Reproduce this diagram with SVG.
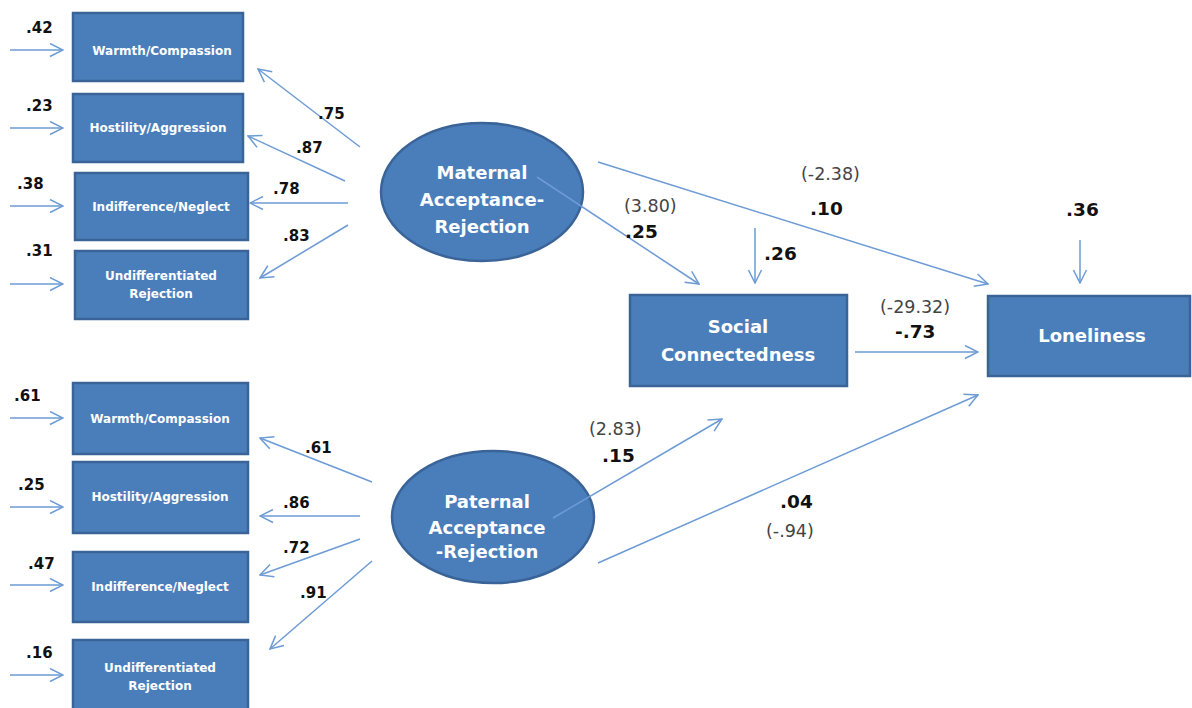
<svg xmlns="http://www.w3.org/2000/svg" width="1192" height="708" viewBox="0 0 1192 708">
<defs>
<marker id="arr" viewBox="0 0 15 15" markerWidth="15" markerHeight="15" refX="14" refY="7.5" orient="auto" markerUnits="userSpaceOnUse">
<path d="M1,1 L14,7.5 L1,14" fill="none" stroke="#6d9bd5" stroke-width="1.5"/>
</marker>
</defs>
<style>
.box{fill:#4a7ebb;stroke:#3a6497;stroke-width:2.5}
.ell{fill:#4a7ebb;stroke:#3a6497;stroke-width:2.5}
.bt{font-family:"DejaVu Sans",sans-serif;font-weight:bold;font-size:12px;fill:#ffffff;text-anchor:middle}
.nt{font-family:"DejaVu Sans",sans-serif;font-weight:bold;font-size:18px;fill:#ffffff;text-anchor:middle}
.c{fill:none;stroke:#6d9bd5;stroke-width:1.5;marker-end:url(#arr)}
.s{font-family:"DejaVu Sans",sans-serif;font-weight:bold;font-size:15px;fill:#111}
.b{font-family:"DejaVu Sans",sans-serif;font-weight:bold;font-size:18.5px;fill:#111}
.p{font-family:"DejaVu Sans",sans-serif;font-size:17.5px;fill:#444}
</style>
<rect width="1192" height="708" fill="#ffffff"/>

<g id="m_warmth"><rect class="box" x="73" y="13" width="170" height="68"/><text class="bt" x="162" y="55">Warmth/Compassion</text></g>
<g id="m_hostility"><rect class="box" x="73" y="94" width="170" height="68"/><text class="bt" x="158" y="132">Hostility/Aggression</text></g>
<g id="m_indiff"><rect class="box" x="75" y="173" width="173" height="67"/><text class="bt" x="161" y="211">Indifference/Neglect</text></g>
<g id="m_undiff"><rect class="box" x="75" y="251" width="173" height="68"/><text class="bt" x="161" y="280">Undifferentiated</text><text class="bt" x="161" y="298">Rejection</text></g>

<g id="p_warmth"><rect class="box" x="73" y="383" width="175" height="71"/><text class="bt" x="160" y="423">Warmth/Compassion</text></g>
<g id="p_hostility"><rect class="box" x="73" y="462" width="175" height="71"/><text class="bt" x="160" y="501">Hostility/Aggression</text></g>
<g id="p_indiff"><rect class="box" x="73" y="552" width="175" height="70"/><text class="bt" x="160" y="591">Indifference/Neglect</text></g>
<g id="p_undiff"><rect class="box" x="73" y="640" width="175" height="72"/><text class="bt" x="160" y="672">Undifferentiated</text><text class="bt" x="160" y="690">Rejection</text></g>

<g id="maternal"><ellipse class="ell" cx="482" cy="192" rx="101" ry="69"/><text class="nt" x="482" y="179">Maternal</text><text class="nt" x="482" y="206">Acceptance-</text><text class="nt" x="482" y="233">Rejection</text></g>
<g id="paternal"><ellipse class="ell" cx="493" cy="517" rx="101" ry="66"/><text class="nt" x="487" y="508">Paternal</text><text class="nt" x="487" y="534">Acceptance</text><text class="nt" x="487" y="558">-Rejection</text></g>

<g id="social"><rect class="box" x="630" y="295" width="217" height="91"/><text class="nt" x="738" y="333">Social</text><text class="nt" x="738" y="361">Connectedness</text></g>
<g id="loneliness"><rect class="box" x="988" y="296" width="202" height="80"/><text class="nt" x="1092" y="342">Loneliness</text></g>

<g id="connectors">
<line class="c" x1="10" y1="50" x2="63" y2="50"/>
<line class="c" x1="10" y1="128" x2="63" y2="128"/>
<line class="c" x1="10" y1="206" x2="63" y2="206"/>
<line class="c" x1="10" y1="284" x2="63" y2="284"/>
<line class="c" x1="10" y1="418" x2="63" y2="418"/>
<line class="c" x1="10" y1="507" x2="63" y2="507"/>
<line class="c" x1="10" y1="585" x2="63" y2="585"/>
<line class="c" x1="10" y1="675" x2="63" y2="675"/>

<line class="c" x1="360" y1="147" x2="258" y2="69"/>
<line class="c" x1="345" y1="181" x2="248" y2="136"/>
<line class="c" x1="348" y1="203" x2="250" y2="203"/>
<line class="c" x1="348" y1="225" x2="260" y2="278"/>

<line class="c" x1="372" y1="482" x2="260" y2="438"/>
<line class="c" x1="360" y1="516" x2="260" y2="516"/>
<line class="c" x1="360" y1="539" x2="260" y2="575"/>
<line class="c" x1="372" y1="561" x2="270" y2="649"/>

<line class="c" x1="537" y1="177" x2="699" y2="284"/>
<line class="c" x1="598" y1="162" x2="988" y2="284"/>
<line class="c" x1="755" y1="228" x2="755" y2="283"/>
<line class="c" x1="1080" y1="240" x2="1080" y2="283"/>
<line class="c" x1="855" y1="352" x2="978" y2="352"/>
<line class="c" x1="553" y1="518" x2="722" y2="419"/>
<line class="c" x1="598" y1="563" x2="978" y2="395"/>
</g>

<g id="labels">
<text class="s" x="26" y="33">.42</text>
<text class="s" x="26" y="111">.23</text>
<text class="s" x="17" y="189">.38</text>
<text class="s" x="26" y="256">.31</text>
<text class="s" x="14" y="401">.61</text>
<text class="s" x="18" y="490">.25</text>
<text class="s" x="28" y="569">.47</text>
<text class="s" x="26" y="658">.16</text>

<text class="s" x="318" y="119">.75</text>
<text class="s" x="296" y="153">.87</text>
<text class="s" x="273" y="194">.78</text>
<text class="s" x="283" y="241">.83</text>
<text class="s" x="305" y="453">.61</text>
<text class="s" x="283" y="508">.86</text>
<text class="s" x="283" y="553">.72</text>
<text class="s" x="300" y="598">.91</text>

<text class="p" x="624" y="212">(3.80)</text>
<text class="b" x="625" y="238">.25</text>
<text class="p" x="801" y="180">(-2.38)</text>
<text class="b" x="810" y="215">.10</text>
<text class="b" x="764" y="260">.26</text>
<text class="b" x="1066" y="216">.36</text>
<text class="p" x="880" y="313">(-29.32)</text>
<text class="b" x="895" y="338">-.73</text>
<text class="p" x="589" y="435">(2.83)</text>
<text class="b" x="602" y="462">.15</text>
<text class="b" x="780" y="508">.04</text>
<text class="p" x="766" y="537">(-.94)</text>
</g>
</svg>
